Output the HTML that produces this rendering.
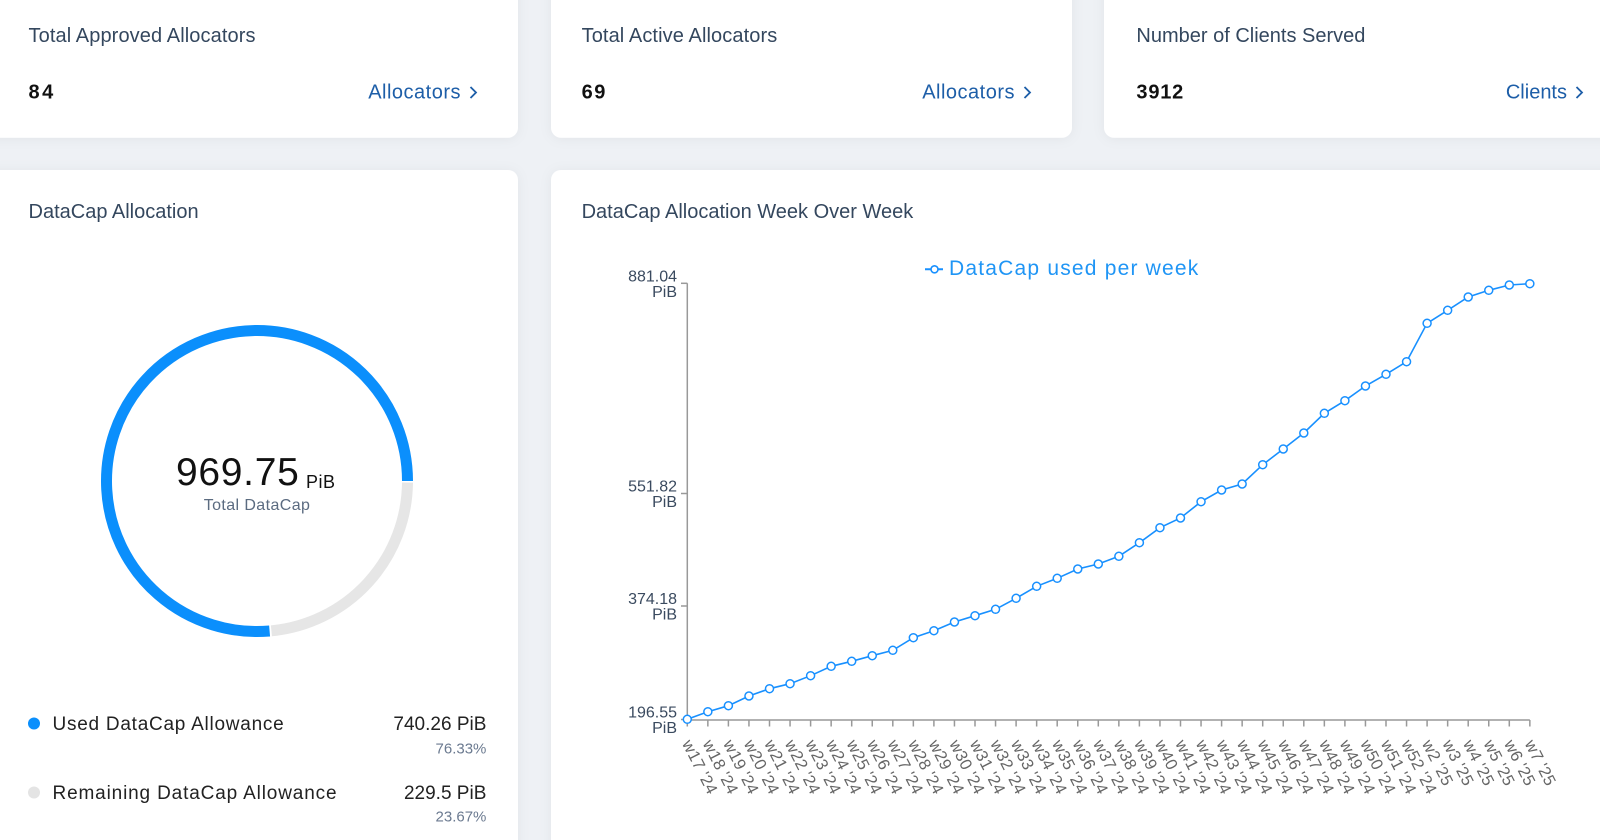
<!DOCTYPE html>
<html>
<head>
<meta charset="utf-8">
<style>
html,body{margin:0;padding:0;background:#eef1f5;}
body{width:1600px;height:840px;overflow:hidden;}
svg{display:block;font-family:"Liberation Sans",sans-serif;}
</style>
</head>
<body>
<svg width="1600" height="840" viewBox="0 0 1600 840" xmlns="http://www.w3.org/2000/svg">
<defs>
<filter id="sh" x="-10%" y="-10%" width="120%" height="120%">
<feDropShadow dx="0" dy="1" stdDeviation="6" flood-color="#000" flood-opacity="0.05"/>
</filter>
</defs>
<rect x="0" y="0" width="1600" height="840" fill="#eef1f5"/>

<!-- top cards -->
<rect x="-20" y="-20" width="538" height="157.7" rx="10" fill="#fff" filter="url(#sh)"/>
<rect x="551" y="-20" width="521" height="157.7" rx="10" fill="#fff" filter="url(#sh)"/>
<rect x="1104" y="-20" width="540" height="157.7" rx="10" fill="#fff" filter="url(#sh)"/>
<!-- bottom cards -->
<rect x="-20" y="170" width="538" height="720" rx="10" fill="#fff" filter="url(#sh)"/>
<rect x="551" y="170" width="1100" height="720" rx="10" fill="#fff" filter="url(#sh)"/>

<!-- top card texts -->
<g font-size="20" fill="#34475e">
<text x="28.5" y="42" letter-spacing="0.1">Total Approved Allocators</text>
<text x="581.6" y="42" letter-spacing="0.1">Total Active Allocators</text>
<text x="1136.4" y="42">Number of Clients Served</text>
</g>
<g font-size="20" font-weight="bold" fill="#111" letter-spacing="0.8">
<text x="28.5" y="98.3" letter-spacing="2.5">84</text>
<text x="581.6" y="98.3" letter-spacing="1.5">69</text>
<text x="1136.4" y="98.3">3912</text>
</g>
<g font-size="20" fill="#1d5ea8" text-anchor="end">
<text x="461" y="98.3" letter-spacing="0.5">Allocators</text>
<text x="1015" y="98.3" letter-spacing="0.5">Allocators</text>
<text x="1567" y="98.3">Clients</text>
</g>
<g fill="none" stroke="#1d5ea8" stroke-width="1.8">
<polyline points="470.5,87 476,92.5 470.5,98"/>
<polyline points="1024.5,87 1030,92.5 1024.5,98"/>
<polyline points="1576.5,87 1582,92.5 1576.5,98"/>
</g>

<!-- bottom titles -->
<g font-size="20" fill="#34475e">
<text x="28.5" y="218">DataCap Allocation</text>
<text x="581.6" y="218">DataCap Allocation Week Over Week</text>
</g>

<!-- donut -->
<path d="M 407.5 481 A 150.5 150.5 0 1 0 269.6 631" fill="none" stroke="#0b8ffc" stroke-width="11"/>
<path d="M 271.4 630.8 A 150.5 150.5 0 0 0 407.5 482.6" fill="none" stroke="#e6e6e6" stroke-width="11"/>
<text x="176" y="485" font-size="39" fill="#111" letter-spacing="0.7">969.75</text>
<text x="306" y="488" font-size="18" fill="#111" letter-spacing="0.5">PiB</text>
<text x="257" y="510" font-size="16" fill="#5b6b80" text-anchor="middle" letter-spacing="0.4">Total DataCap</text>

<!-- donut legend -->
<circle cx="34" cy="723.5" r="6" fill="#0b8ffc"/>
<circle cx="34" cy="792.5" r="6" fill="#e4e4e4"/>
<g font-size="19" fill="#222">
<text x="52.5" y="730" letter-spacing="0.75">Used DataCap Allowance</text>
<text x="52.5" y="799" letter-spacing="0.85">Remaining DataCap Allowance</text>
<text x="486.4" y="730" text-anchor="end">740.26 PiB</text>
<text x="486.4" y="799" text-anchor="end">229.5 PiB</text>
</g>
<g font-size="15" fill="#6b7a90" text-anchor="end">
<text x="486.4" y="753.3">76.33%</text>
<text x="486.4" y="821.7">23.67%</text>
</g>

<!-- chart legend -->
<line x1="925" y1="269.3" x2="943" y2="269.3" stroke="#1890ff" stroke-width="2"/>
<circle cx="934.5" cy="269.3" r="3.5" fill="#fff" stroke="#1890ff" stroke-width="1.6"/>
<text x="949" y="275" font-size="21" fill="#1f95f5" letter-spacing="1.2">DataCap used per week</text>

<!-- axes -->
<g stroke="#999" stroke-width="1.5" fill="none">
<line x1="687.3" y1="283.3" x2="687.3" y2="720"/>
<line x1="686.5" y1="720" x2="1529.85" y2="720"/>
<line x1="681" y1="283.3" x2="687.3" y2="283.3"/>
<line x1="681" y1="493.5" x2="687.3" y2="493.5"/>
<line x1="681" y1="606" x2="687.3" y2="606"/>
<line x1="681" y1="719.5" x2="687.3" y2="719.5"/>
<path d="M687.3 720v6.5M707.85 720v6.5M728.4 720v6.5M748.95 720v6.5M769.5 720v6.5M790.05 720v6.5M810.6 720v6.5M831.15 720v6.5M851.7 720v6.5M872.25 720v6.5M892.8 720v6.5M913.35 720v6.5M933.9 720v6.5M954.45 720v6.5M975 720v6.5M995.55 720v6.5M1016.1 720v6.5M1036.65 720v6.5M1057.2 720v6.5M1077.75 720v6.5M1098.3 720v6.5M1118.85 720v6.5M1139.4 720v6.5M1159.95 720v6.5M1180.5 720v6.5M1201.05 720v6.5M1221.6 720v6.5M1242.15 720v6.5M1262.7 720v6.5M1283.25 720v6.5M1303.8 720v6.5M1324.35 720v6.5M1344.9 720v6.5M1365.45 720v6.5M1386 720v6.5M1406.55 720v6.5M1427.1 720v6.5M1447.65 720v6.5M1468.2 720v6.5M1488.75 720v6.5M1509.3 720v6.5M1529.85 720v6.5"/>
</g>

<!-- y labels -->
<g font-size="16" fill="#3a4a5f" text-anchor="end">
<text x="677" y="281.3">881.04</text><text x="677" y="296.8">PiB</text>
<text x="677" y="491.5">551.82</text><text x="677" y="507">PiB</text>
<text x="677" y="604">374.18</text><text x="677" y="619.5">PiB</text>
<text x="677" y="717.5">196.55</text><text x="677" y="733">PiB</text>
</g>

<!-- series -->
<polyline fill="none" stroke="#1890ff" stroke-width="1.6" points="687.3,719.3 707.85,711.7 728.4,705.7 748.95,696 769.5,688.7 790.05,683.7 810.6,675.7 831.15,666.3 851.7,661.3 872.25,655.7 892.8,650.3 913.35,637.7 933.9,630.7 954.45,622 975,615.7 995.55,609.3 1016.1,598.3 1036.65,586.3 1057.2,578.3 1077.75,569 1098.3,564 1118.85,556.3 1139.4,542.7 1159.95,527.7 1180.5,518 1201.05,501.7 1221.6,490 1242.15,484 1262.7,464.7 1283.25,449 1303.8,433 1324.35,413.3 1344.9,400.7 1365.45,386 1386,374.3 1406.55,361.7 1427.1,323.3 1447.65,310.3 1468.2,297 1488.75,290.3 1509.3,285 1529.85,283.7"/>
<g fill="#fff" stroke="#1890ff" stroke-width="1.5">
<circle cx="687.3" cy="719.3" r="4"/><circle cx="707.85" cy="711.7" r="4"/><circle cx="728.4" cy="705.7" r="4"/><circle cx="748.95" cy="696" r="4"/><circle cx="769.5" cy="688.7" r="4"/><circle cx="790.05" cy="683.7" r="4"/><circle cx="810.6" cy="675.7" r="4"/><circle cx="831.15" cy="666.3" r="4"/><circle cx="851.7" cy="661.3" r="4"/><circle cx="872.25" cy="655.7" r="4"/><circle cx="892.8" cy="650.3" r="4"/><circle cx="913.35" cy="637.7" r="4"/><circle cx="933.9" cy="630.7" r="4"/><circle cx="954.45" cy="622" r="4"/><circle cx="975" cy="615.7" r="4"/><circle cx="995.55" cy="609.3" r="4"/><circle cx="1016.1" cy="598.3" r="4"/><circle cx="1036.65" cy="586.3" r="4"/><circle cx="1057.2" cy="578.3" r="4"/><circle cx="1077.75" cy="569" r="4"/><circle cx="1098.3" cy="564" r="4"/><circle cx="1118.85" cy="556.3" r="4"/><circle cx="1139.4" cy="542.7" r="4"/><circle cx="1159.95" cy="527.7" r="4"/><circle cx="1180.5" cy="518" r="4"/><circle cx="1201.05" cy="501.7" r="4"/><circle cx="1221.6" cy="490" r="4"/><circle cx="1242.15" cy="484" r="4"/><circle cx="1262.7" cy="464.7" r="4"/><circle cx="1283.25" cy="449" r="4"/><circle cx="1303.8" cy="433" r="4"/><circle cx="1324.35" cy="413.3" r="4"/><circle cx="1344.9" cy="400.7" r="4"/><circle cx="1365.45" cy="386" r="4"/><circle cx="1386" cy="374.3" r="4"/><circle cx="1406.55" cy="361.7" r="4"/><circle cx="1427.1" cy="323.3" r="4"/><circle cx="1447.65" cy="310.3" r="4"/><circle cx="1468.2" cy="297" r="4"/><circle cx="1488.75" cy="290.3" r="4"/><circle cx="1509.3" cy="285" r="4"/><circle cx="1529.85" cy="283.7" r="4"/>
</g>

<!-- x labels -->
<g font-size="16.5" fill="#666" letter-spacing="0.3">
<text transform="translate(681.8,743.5) rotate(63)">w17 '24</text>
<text transform="translate(702.35,743.5) rotate(63)">w18 '24</text>
<text transform="translate(722.9,743.5) rotate(63)">w19 '24</text>
<text transform="translate(743.45,743.5) rotate(63)">w20 '24</text>
<text transform="translate(764,743.5) rotate(63)">w21 '24</text>
<text transform="translate(784.55,743.5) rotate(63)">w22 '24</text>
<text transform="translate(805.1,743.5) rotate(63)">w23 '24</text>
<text transform="translate(825.65,743.5) rotate(63)">w24 '24</text>
<text transform="translate(846.2,743.5) rotate(63)">w25 '24</text>
<text transform="translate(866.75,743.5) rotate(63)">w26 '24</text>
<text transform="translate(887.3,743.5) rotate(63)">w27 '24</text>
<text transform="translate(907.85,743.5) rotate(63)">w28 '24</text>
<text transform="translate(928.4,743.5) rotate(63)">w29 '24</text>
<text transform="translate(948.95,743.5) rotate(63)">w30 '24</text>
<text transform="translate(969.5,743.5) rotate(63)">w31 '24</text>
<text transform="translate(990.05,743.5) rotate(63)">w32 '24</text>
<text transform="translate(1010.6,743.5) rotate(63)">w33 '24</text>
<text transform="translate(1031.15,743.5) rotate(63)">w34 '24</text>
<text transform="translate(1051.7,743.5) rotate(63)">w35 '24</text>
<text transform="translate(1072.25,743.5) rotate(63)">w36 '24</text>
<text transform="translate(1092.8,743.5) rotate(63)">w37 '24</text>
<text transform="translate(1113.35,743.5) rotate(63)">w38 '24</text>
<text transform="translate(1133.9,743.5) rotate(63)">w39 '24</text>
<text transform="translate(1154.45,743.5) rotate(63)">w40 '24</text>
<text transform="translate(1175,743.5) rotate(63)">w41 '24</text>
<text transform="translate(1195.55,743.5) rotate(63)">w42 '24</text>
<text transform="translate(1216.1,743.5) rotate(63)">w43 '24</text>
<text transform="translate(1236.65,743.5) rotate(63)">w44 '24</text>
<text transform="translate(1257.2,743.5) rotate(63)">w45 '24</text>
<text transform="translate(1277.75,743.5) rotate(63)">w46 '24</text>
<text transform="translate(1298.3,743.5) rotate(63)">w47 '24</text>
<text transform="translate(1318.85,743.5) rotate(63)">w48 '24</text>
<text transform="translate(1339.4,743.5) rotate(63)">w49 '24</text>
<text transform="translate(1359.95,743.5) rotate(63)">w50 '24</text>
<text transform="translate(1380.5,743.5) rotate(63)">w51 '24</text>
<text transform="translate(1401.05,743.5) rotate(63)">w52 '24</text>
<text transform="translate(1421.6,743.5) rotate(63)">w2 '25</text>
<text transform="translate(1442.15,743.5) rotate(63)">w3 '25</text>
<text transform="translate(1462.7,743.5) rotate(63)">w4 '25</text>
<text transform="translate(1483.25,743.5) rotate(63)">w5 '25</text>
<text transform="translate(1503.8,743.5) rotate(63)">w6 '25</text>
<text transform="translate(1524.35,743.5) rotate(63)">w7 '25</text>
</g>
</svg>
</body>
</html>
